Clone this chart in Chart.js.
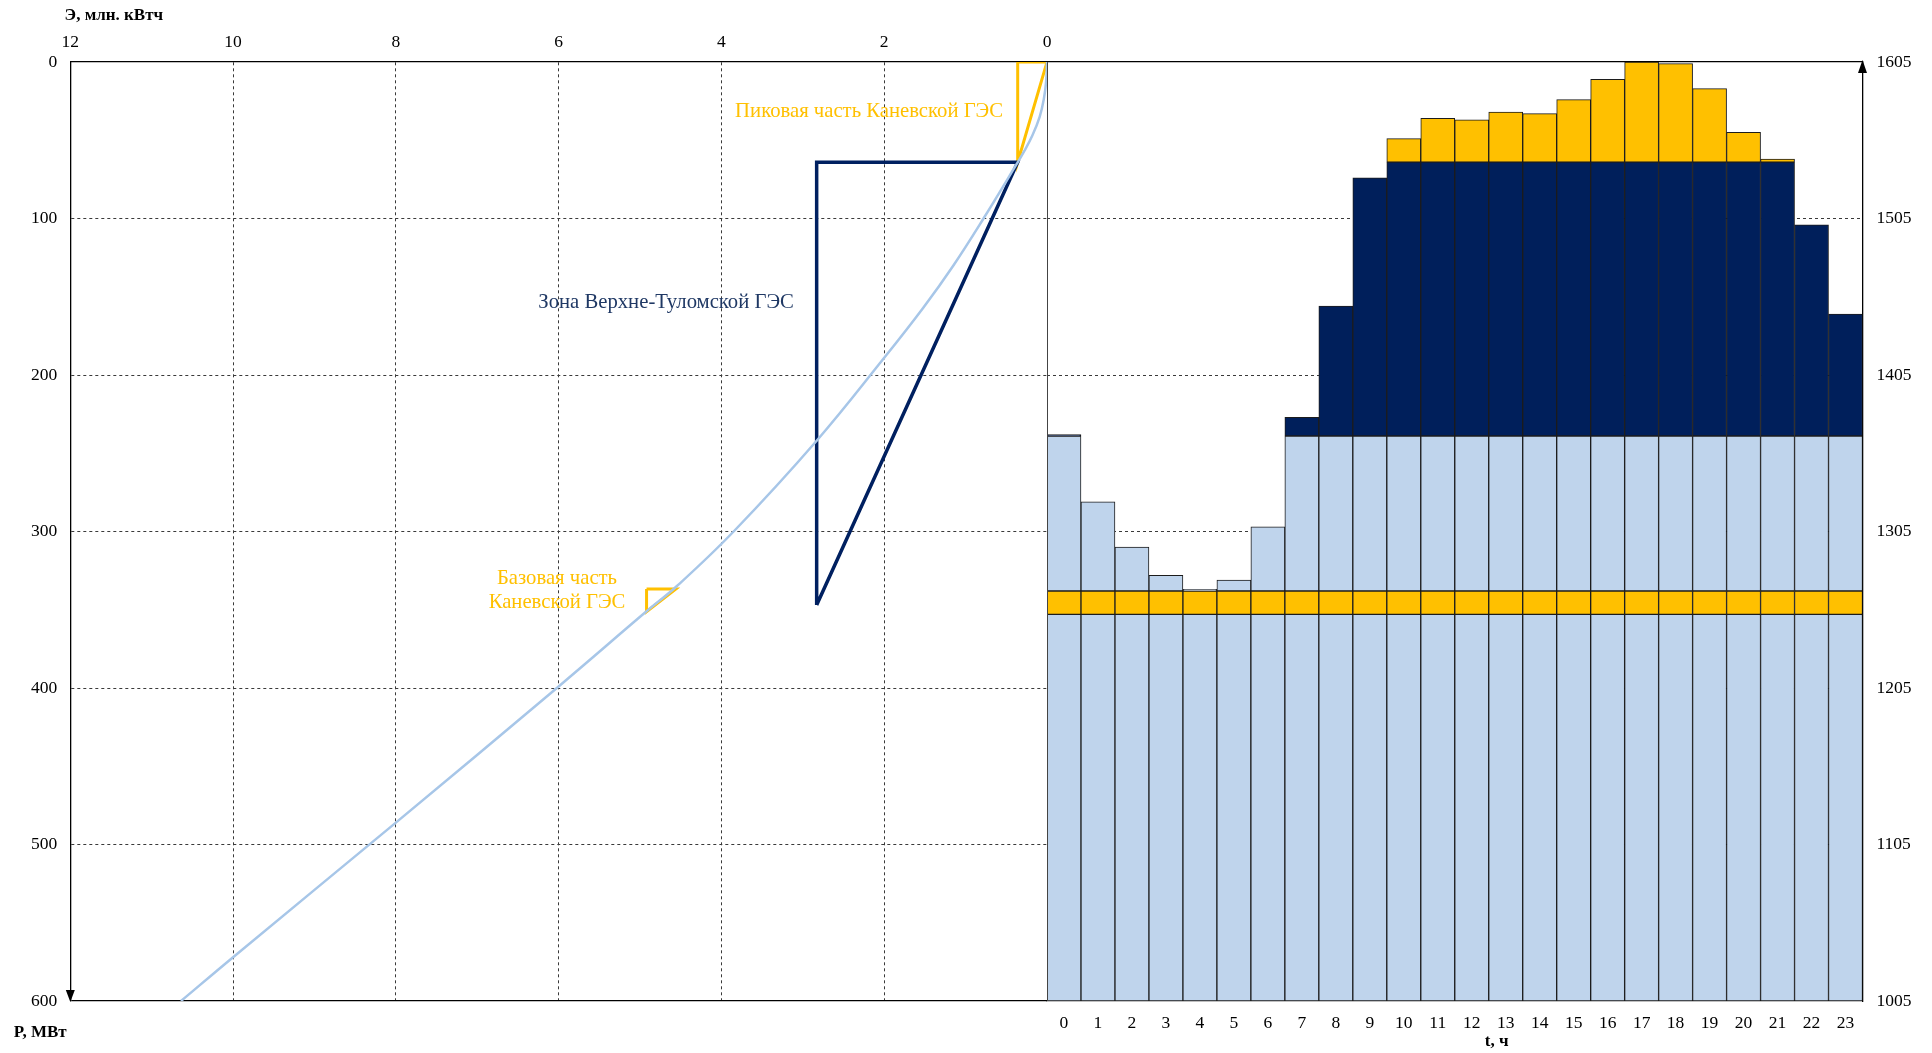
<!DOCTYPE html>
<html>
<head>
<meta charset="utf-8">
<script src="https://cdn.jsdelivr.net/npm/chart.js@4.4.1/dist/chart.umd.min.js"></script>
<style>
  html, body { margin: 0; padding: 0; background: #fff; }
  #wrap { position: relative; width: 1932px; height: 1053px; }
  #wrap canvas { position: absolute; left: 0; top: 0; }
</style>
</head>
<body>
<div id="wrap">
  <canvas id="load_chart" width="1932" height="1053"></canvas>
  <canvas id="energy_chart" width="1932" height="1053"></canvas>
</div>
<script>
// hourly load, MW
var hours = ["0","1","2","3","4","5","6","7","8","9","10","11","12","13","14","15","16","17","18","19","20","21","22","23"];
var load = [1367, 1324, 1295, 1277, 1268, 1274, 1308, 1378, 1449, 1531, 1556, 1569,
            1568, 1573, 1572, 1581, 1594, 1605, 1604, 1588, 1560, 1543, 1501, 1444];
var kanevBase = [1252, 1267];   // base part of Kanev HPP
var tulomaZone = [1366, 1541];  // zone of Verkhne-Tuloma HPP
var rightTicks = [1005, 1105, 1205, 1305, 1405, 1505, 1605];

// energy (integral) curve: E mln kWh, P MW
var curveE = [0, 0.01, 0.04, 0.09, 0.18, 0.28, 0.37, 0.78, 1.15, 1.52, 2.0, 2.83, 3.85, 4.55, 4.92, 6.0, 8.0, 10.0, 10.64];
var curveP = [0, 12, 24, 35, 47, 57, 65, 100, 130, 157, 189, 242, 300, 335, 351, 399, 486, 572, 600];

var tulomaE = [2.83, 2.83, 0.36, 2.83];
var tulomaP = [347, 64, 64, 347];
var peakE = [0.36, 0.36, 0, 0.36];
var peakP = [0, 64, 0, 0];
var baseE = [4.92, 4.56, 4.92, 4.92];
var baseP = [336.7, 336.7, 351.2, 336.7];

var LIGHT = "#BFD4EC";
var NAVY = "#001F5B";
var ORANGE = "#FFC000";
var GRID = "#3a3a3a";

Chart.defaults.font.family = "'Liberation Serif', 'Times New Roman', serif";
Chart.defaults.font.size = 17.5;
Chart.defaults.color = "#000";

function band(lo, hi) {
  return load.map(function(v) { return v > lo ? [lo, Math.min(v, hi)] : null; });
}

function seg(data, color) {
  return {
    data: data,
    backgroundColor: color,
    borderColor: "#1c1c1c",
    borderWidth: 1,
    borderSkipped: false,
    grouped: false,
    barPercentage: 1,
    categoryPercentage: 1
  };
}

function pts(xs, ys) {
  return xs.map(function(x, i) { return {x: x, y: ys[i]}; });
}

function poly(xs, ys, color, width) {
  return {
    data: pts(xs, ys),
    showLine: true,
    borderColor: color,
    borderWidth: width,
    pointRadius: 0,
    tension: 0
  };
}

var boldFont = "bold 17px 'Liberation Serif', 'Times New Roman', serif";

var ctx = document.getElementById("load_chart").getContext('2d');
var load_chart = new Chart(ctx, {
  type: 'bar',
  data: {
    labels: hours,
    datasets: [
      seg(band(1005, kanevBase[0]), LIGHT),
      seg(band(kanevBase[0], kanevBase[1]), ORANGE),
      seg(band(kanevBase[1], tulomaZone[0]), LIGHT),
      seg(band(tulomaZone[0], tulomaZone[1]), NAVY),
      seg(band(tulomaZone[1], Infinity), ORANGE)
    ]
  },
  options: {
    responsive: false,
    animation: false,
    layout: { padding: { left: 1047, top: 62, right: 0, bottom: 0 } },
    plugins: { legend: { display: false }, tooltip: { enabled: false } },
    scales: {
      x: {
        grid: { display: false },
        border: { color: "#000", width: 1.3 },
        ticks: { padding: 4, maxRotation: 0, autoSkip: false },
        afterFit: function(s) { s.height = 52; }
      },
      y: {
        position: 'right',
        min: 1005,
        max: 1605,
        afterBuildTicks: function(s) { s.ticks = rightTicks.map(function(v) { return {value: v}; }); },
        grid: {
          drawTicks: false,
          color: function(c) { return c.tick && c.tick.value === 1605 ? "#000" : (c.tick && c.tick.value === 1005 ? "transparent" : GRID); },
          lineWidth: function(c) { return c.tick && c.tick.value === 1605 ? 1.3 : 1; }
        },
        border: {
          color: "#000", width: 1.3,
          dash: function(c) { return c.tick && c.tick.value === 1605 ? [] : [3, 3]; }
        },
        ticks: { padding: 14, callback: function(v) { return String(v); } },
        afterFit: function(s) { s.width = 69.5; }
      }
    }
  },
  plugins: [{
    id: 'loadExtras',
    afterDraw: function(chart) {
      var c = chart.ctx, a = chart.chartArea, xs = chart.scales.x;
      c.save();
      // arrow on the right axis
      c.fillStyle = "#000";
      c.beginPath();
      c.moveTo(a.right - 4.5, a.top + 11);
      c.lineTo(a.right + 4.5, a.top + 11);
      c.lineTo(a.right, a.top - 2);
      c.closePath();
      c.fill();
      c.font = boldFont;
      c.textAlign = "center";
      c.textBaseline = "middle";
      c.fillText("t, ч", xs.getPixelForValue(13) - 9, a.bottom + 41);
      c.restore();
    }
  }]
});

var notes = [
  { lines: ["Пиковая часть Каневской ГЭС"], e: 0.54, p: 31.5, align: "right", color: ORANGE },
  { lines: ["Зона Верхне-Туломской ГЭС"], e: 4.68, p: 154, align: "center", color: "#1F3864" },
  { lines: ["Базовая часть", "Каневской ГЭС"], e: 6.02, p: 330.3, align: "center", color: ORANGE }
];

var ctx2 = document.getElementById("energy_chart").getContext('2d');
var energy_chart = new Chart(ctx2, {
  type: 'scatter',
  data: {
    datasets: [
      {
        data: pts(curveE, curveP),
        showLine: true,
        borderColor: "#A7C6E8",
        borderWidth: 2.5,
        pointRadius: 0,
        tension: 0.4
      },
      poly(tulomaE, tulomaP, "#002060", 3.5),
      poly(peakE, peakP, ORANGE, 3),
      poly(baseE, baseP, ORANGE, 3)
    ]
  },
  options: {
    responsive: false,
    animation: false,
    layout: { padding: { left: 0, top: 0, right: 1932 - 1047, bottom: 52 } },
    plugins: { legend: { display: false }, tooltip: { enabled: false } },
    scales: {
      x: {
        type: 'linear',
        position: 'top',
        min: 0,
        max: 12,
        reverse: true,
        ticks: { stepSize: 2, padding: 9.5 },
        grid: {
          drawTicks: false,
          color: function(c) { return c.tick && c.tick.value === 12 ? "transparent" : (c.tick && c.tick.value === 0 ? "#444" : GRID); }
        },
        border: {
          color: "#000", width: 1.3,
          dash: function(c) { return c.tick && c.tick.value === 0 ? [] : [3, 3]; }
        },
        afterFit: function(s) { s.height = 62; }
      },
      y: {
        type: 'linear',
        position: 'left',
        min: 0,
        max: 600,
        reverse: true,
        ticks: { stepSize: 100, padding: 13 },
        grid: {
          drawTicks: false,
          color: function(c) { return c.tick && c.tick.value === 0 ? "transparent" : (c.tick && c.tick.value === 600 ? "#000" : GRID); },
          lineWidth: function(c) { return c.tick && c.tick.value === 600 ? 1.3 : 1; }
        },
        border: {
          color: "#000", width: 1.3,
          dash: function(c) { return c.tick && c.tick.value === 600 ? [] : [3, 3]; }
        },
        afterFit: function(s) { s.width = 70.3; }
      }
    }
  },
  plugins: [{
    id: 'energyExtras',
    afterDraw: function(chart) {
      var c = chart.ctx, a = chart.chartArea, xs = chart.scales.x, ys = chart.scales.y;
      c.save();
      // arrow at the bottom of the P axis
      c.fillStyle = "#000";
      c.beginPath();
      c.moveTo(a.left - 4.5, a.bottom - 11);
      c.lineTo(a.left + 4.5, a.bottom - 11);
      c.lineTo(a.left, a.bottom + 1);
      c.closePath();
      c.fill();
      // axis titles
      c.font = boldFont;
      c.textBaseline = "middle";
      c.textAlign = "left";
      c.fillText("Э, млн. кВтч", a.left - 5.7, 16);
      c.textAlign = "right";
      c.fillText("P, МВт", a.left - 3.6, a.bottom + 32);
      // zone notes
      c.font = "20.7px 'Liberation Serif', 'Times New Roman', serif";
      notes.forEach(function(n) {
        c.fillStyle = n.color;
        c.textAlign = n.align;
        n.lines.forEach(function(t, i) {
          c.fillText(t, xs.getPixelForValue(n.e), ys.getPixelForValue(n.p) + i * 23.7);
        });
      });
      c.restore();
    }
  }]
});
</script>
</body>
</html>
